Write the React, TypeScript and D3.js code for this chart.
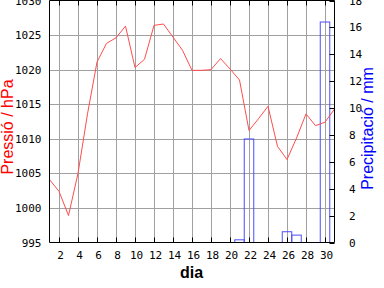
import React from "react";
import * as d3 from "d3";

const days = d3.range(1, 32);
const pressure = [1004.1, 1002.4, 998.9, 1005.0, 1013.6, 1021.1, 1023.8, 1024.6, 1026.3, 1020.3, 1021.5, 1026.4, 1026.6, 1024.7, 1022.8, 1019.9, 1019.9, 1020.0, 1021.6, 1020.1, 1018.5, 1011.2, 1012.9, 1014.7, 1008.9, 1007.0, 1010.1, 1013.6, 1011.9, 1012.4, 1014.3];
const precipDays = [21, 22, 26, 27, 30];
const precipValues = [0.2, 7.7, 0.8, 0.55, 16.4];
const xTicks = d3.range(2, 31, 2);
const pTicks = d3.range(995, 1031, 5);
const rTicks = d3.range(0, 19, 2);

const W = 384, H = 288;
const L = 49.5, R = 334.5, T = 0.5, B = 242.5;
const mono = "'DejaVu Sans Mono', monospace";
const sans = "'Liberation Sans', Arial, sans-serif";

export default function App() {
  const x = d3.scaleLinear().domain([1, 31]).range([L, R]);
  const yP = d3.scaleLinear().domain([995, 1030]).range([B, T]);
  const yR = d3.scaleLinear().domain([0, 18]).range([B, T]);
  const line = d3.line<number>().x((_, i) => x(days[i])).y((d) => yP(d));

  return (
    <svg width={W} height={H} style={{ position: "absolute", left: 0, top: 0, background: "#fff" }}>
      <rect x={0} y={0} width={W} height={H} fill="#fff" />
      {/* grid */}
      {xTicks.map((t) => (
        <line key={"gx" + t} x1={Math.round(x(t)) + 0.5} x2={Math.round(x(t)) + 0.5} y1={T} y2={B} stroke="#a0a0a0" strokeWidth={1} />
      ))}
      {pTicks.slice(1, -1).map((t) => (
        <line key={"gy" + t} x1={L} x2={R} y1={Math.round(yP(t)) + 0.5} y2={Math.round(yP(t)) + 0.5} stroke="#a0a0a0" strokeWidth={1} />
      ))}
      {/* precip bars */}
      {precipDays.map((d, i) => (
        <rect key={"b" + d} x={x(d - 0.5)} y={yR(precipValues[i])} width={x(d + 0.5) - x(d - 0.5)} height={yR(0) - yR(precipValues[i])} fill="none" stroke="#4d4dff" strokeWidth={1} />
      ))}
      {/* pressure line */}
      <path d={line(pressure) || ""} fill="none" stroke="#ff4d4d" strokeWidth={1} />
      {/* border */}
      <line x1={L} x2={L} y1={T} y2={B} stroke="#000" />
      <line x1={R} x2={R} y1={T} y2={B} stroke="#000" />
      <line x1={L} x2={R} y1={B} y2={B} stroke="#000" />
      <line x1={L} x2={R} y1={T} y2={T} stroke="#000" />
      {/* x ticks */}
      {xTicks.map((t) => (
        <g key={"xt" + t}>
          <line x1={Math.round(x(t)) + 0.5} x2={Math.round(x(t)) + 0.5} y1={B} y2={B - 5} stroke="#000" />
          <line x1={Math.round(x(t)) + 0.5} x2={Math.round(x(t)) + 0.5} y1={T} y2={T + 5} stroke="#000" />
          <text x={x(t) + 1.5} y={259} textAnchor="middle" fontFamily={mono} fontSize={11}>{t}</text>
        </g>
      ))}
      {/* left ticks */}
      {pTicks.map((t) => (
        <text key={"lt" + t} x={41.5} y={yP(t) + 4} textAnchor="end" fontFamily={mono} fontSize={11}>{t}</text>
      ))}
      {/* right ticks */}
      {rTicks.map((t) => (
        <g key={"rt" + t}>
          <line x1={R - 5} x2={R} y1={Math.round(yR(t)) + 0.5} y2={Math.round(yR(t)) + 0.5} stroke="#000" />
          <text x={349} y={yR(t) + 4} textAnchor="start" fontFamily={mono} fontSize={11}>{t}</text>
        </g>
      ))}
      {/* axis titles */}
      <text transform="translate(13,127) rotate(-90)" textAnchor="middle" fontFamily={sans} fontSize={16} fill="#ff0000">Pressió / hPa</text>
      <text transform="translate(373,128.5) rotate(-90)" textAnchor="middle" fontFamily={sans} fontSize={16} fill="#0000ff">Precipitació / mm</text>
      <text x={191.5} y={278} textAnchor="middle" fontFamily={sans} fontSize={16} fontWeight="bold" fill="#000">dia</text>
    </svg>
  );
}
